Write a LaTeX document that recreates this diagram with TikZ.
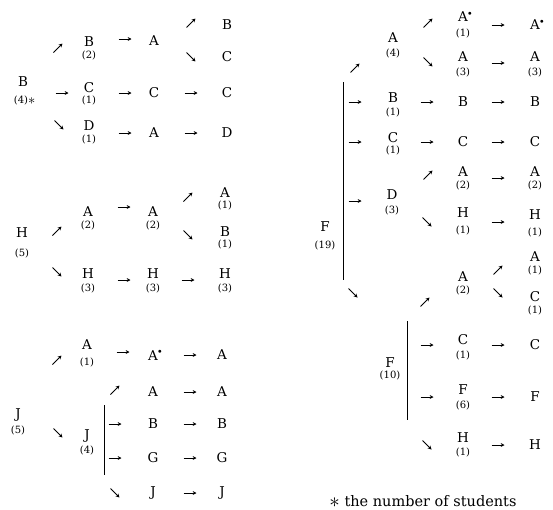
\documentclass[tikz,border=0pt]{standalone}
\usepackage{fontspec}
\setmainfont{DejaVu Serif}
\usetikzlibrary{calc,arrows.meta}
\tikzset{
  lt/.style={inner sep=0pt,font=\fontsize{13.5}{14}\selectfont},
  ct/.style={inner sep=0pt,font=\fontsize{10}{10}\selectfont},
  arr/.style={line width=0.85pt,-{Stealth[length=3.8pt,width=3.8pt]}},
  brk/.style={line width=0.9pt},
  foot/.style={inner sep=0pt,anchor=base,font=\fontsize{14.5}{16}\selectfont}
}
% arrows placed relative to the node they point to
\newcommand\Ea[3]{\draw[arr] ($(#1)+(#2-6.5,#3)$) -- ++(13,0);}
\newcommand\NEa[3]{\draw[arr] ($(#1)+(#2-4.5,#3+4.5)$) -- ++(9,-9);}
\newcommand\SEa[3]{\draw[arr] ($(#1)+(#2-4.5,#3-4.5)$) -- ++(9,9);}
\newcommand\Adot{A\rlap{\raisebox{1.5pt}{$^{\scriptscriptstyle\bullet}$}}}
\newcommand\bigast{\raisebox{-0.12em}{\scalebox{1.45}{$\ast$}}}
\begin{document}
\begin{tikzpicture}[x=1pt,y=-1pt]
\useasboundingbox (0,0) rectangle (553,509);
% ---------- group B
\node[lt] (b0) at (23,82) {B};
\node[ct] (b0c) at (21,100) {(4)\rlap{\bigast}};
\node[lt] (b1) at (89,42) {B};  \node[ct] (b1c) at (89,55) {(2)};
\node[lt] (b2) at (89,88) {C};  \node[ct] (b2c) at (89,100) {(1)};
\node[lt] (b3) at (89,126) {D}; \node[ct] (b3c) at (89,139) {(1)};
\node[lt] (b4) at (154,41) {A};
\node[lt] (b5) at (154,93) {C};
\node[lt] (b6) at (154,133) {A};
\node[lt] (b7) at (227,25) {B};
\node[lt] (b8) at (227,57) {C};
\node[lt] (b9) at (227,93) {C};
\node[lt] (b10) at (227,133) {D};
\NEa{b1}{-31}{6} \Ea{b2}{-27}{5} \SEa{b3}{-30}{-1}
\Ea{b4}{-29}{-2} \Ea{b5}{-29}{0} \Ea{b6}{-29}{0}
\NEa{b7}{-36}{-2} \SEa{b8}{-36}{0} \Ea{b9}{-36}{0} \Ea{b10}{-36}{0}
% ---------- group H
\node[lt] (h0) at (22,233) {H}; \node[ct] (h0c) at (22,253) {(5)};
\node[lt] (h1) at (88,212) {A}; \node[ct] (h1c) at (88,225) {(2)};
\node[lt] (h2) at (153,212) {A}; \node[ct] (h2c) at (153,225) {(2)};
\node[lt] (h3) at (225,193) {A}; \node[ct] (h3c) at (225,205) {(1)};
\node[lt] (h4) at (225,232) {B}; \node[ct] (h4c) at (225,244) {(1)};
\node[lt] (h5) at (88,274) {H}; \node[ct] (h5c) at (88,288) {(3)};
\node[lt] (h6) at (153,274) {H}; \node[ct] (h6c) at (153,288) {(3)};
\node[lt] (h7) at (225,274) {H}; \node[ct] (h7c) at (225,288) {(3)};
\NEa{h1}{-31}{19} \SEa{h5}{-31}{-2}
\Ea{h2}{-29}{-5} \NEa{h3}{-37}{4} \SEa{h4}{-37}{3}
\Ea{h6}{-29}{6} \Ea{h7}{-37}{6}
% ---------- group J
\node[lt] (j1) at (87,345) {A}; \node[ct] (j1c) at (87,362) {(1)};
\node[lt] (j2) at (153,355) {\Adot};
\node[lt] (j3) at (222,355) {A};
\node[lt] (j4) at (153,392) {A};
\node[lt] (j5) at (222,392) {A};
\node[lt] (j0) at (18,415) {J}; \node[ct] (j0c) at (18,430) {(5)};
\node[lt] (jj) at (87,436) {J}; \node[ct] (jjc) at (87,450) {(4)};
\node[lt] (j6) at (153,424) {B};
\node[lt] (j7) at (222,424) {B};
\node[lt] (j8) at (153,458) {G};
\node[lt] (j9) at (222,458) {G};
\node[lt] (j10) at (153,493) {J};
\node[lt] (j11) at (222,493) {J};
\draw[brk] (104,405) -- (104,475);
\NEa{j1}{-30}{15} \Ea{j2}{-30}{-3} \Ea{j3}{-32}{0}
\SEa{jj}{-29}{-3}
\NEa{j4}{-38}{-2} \Ea{j5}{-32}{0}
\Ea{j6}{-38}{0} \Ea{j7}{-32}{0}
\Ea{j8}{-38}{0} \Ea{j9}{-32}{0}
\SEa{j10}{-38}{0} \Ea{j11}{-32}{0}
% ---------- group F (19)
\node[lt] (f0) at (325,227) {F}; \node[ct] (f0c) at (325,245) {(19)};
\draw[brk] (343,82) -- (343,280);
\node[lt] (fa) at (393,38) {A}; \node[ct] (fac) at (393,53) {(4)};
\node[lt] (fa1) at (463,17) {\Adot}; \node[ct] (fa1c) at (463,33) {(1)};
\node[lt] (fa2) at (535,25) {\Adot};
\node[lt] (fa3) at (463,57) {A}; \node[ct] (fa3c) at (463,72) {(3)};
\node[lt] (fa4) at (535,57) {A}; \node[ct] (fa4c) at (535,72) {(3)};
\node[lt] (fb) at (393,98) {B}; \node[ct] (fbc) at (393,112) {(1)};
\node[lt] (fb2) at (463,102) {B};
\node[lt] (fb3) at (535,102) {B};
\node[lt] (fc) at (393,138) {C}; \node[ct] (fcc) at (393,150) {(1)};
\node[lt] (fc2) at (463,142) {C};
\node[lt] (fc3) at (535,142) {C};
\node[lt] (fd) at (392,195) {D}; \node[ct] (fdc) at (392,210) {(3)};
\node[lt] (fd1) at (463,172) {A}; \node[ct] (fd1c) at (463,185) {(2)};
\node[lt] (fd2) at (535,172) {A}; \node[ct] (fd2c) at (535,185) {(2)};
\node[lt] (fd3) at (463,213) {H}; \node[ct] (fd3c) at (463,230) {(1)};
\node[lt] (fd4) at (535,215) {H}; \node[ct] (fd4c) at (535,232) {(1)};
\NEa{fa}{-38}{30} \NEa{fa1}{-35}{6} \Ea{fa2}{-37}{0}
\SEa{fa3}{-35}{5} \Ea{fa4}{-37}{6}
\Ea{fb}{-38}{4} \Ea{fb2}{-36}{0} \Ea{fb3}{-37}{0}
\Ea{fc}{-38}{4} \Ea{fc2}{-36}{0} \Ea{fc3}{-37}{0}
\Ea{fd}{-37}{6} \NEa{fd1}{-35}{3} \Ea{fd2}{-37}{6}
\SEa{fd3}{-36}{9} \Ea{fd4}{-37}{7}
% ---------- group F (10)
\node[lt] (g0) at (390,363) {F}; \node[ct] (g0c) at (390,375) {(10)};
\draw[brk] (407,321) -- (407,420);
\node[lt] (ga) at (463,277) {A}; \node[ct] (gac) at (463,290) {(2)};
\node[lt] (ga1) at (535,257) {A}; \node[ct] (ga1c) at (535,270) {(1)};
\node[lt] (ga2) at (535,297) {C}; \node[ct] (ga2c) at (535,310) {(1)};
\node[lt] (gc) at (463,340) {C}; \node[ct] (gcc) at (463,355) {(1)};
\node[lt] (gc2) at (535,345) {C};
\node[lt] (gf) at (463,390) {F}; \node[ct] (gfc) at (463,405) {(6)};
\node[lt] (gf2) at (535,397) {F};
\node[lt] (gh) at (463,438) {H}; \node[ct] (ghc) at (463,452) {(1)};
\node[lt] (gh2) at (535,445) {H};
\SEa{g0}{-37}{-70}
\NEa{ga}{-38}{25} \NEa{ga1}{-37}{13} \SEa{ga2}{-37}{-4}
\Ea{gc}{-36}{5} \Ea{gc2}{-37}{0}
\Ea{gf}{-36}{7} \Ea{gf2}{-37}{0}
\SEa{gh}{-36}{7} \Ea{gh2}{-37}{0}
% ---------- footnote
\node[foot] (note) at (423,506) {\bigast{} the number of students};
\end{tikzpicture}
\end{document}
